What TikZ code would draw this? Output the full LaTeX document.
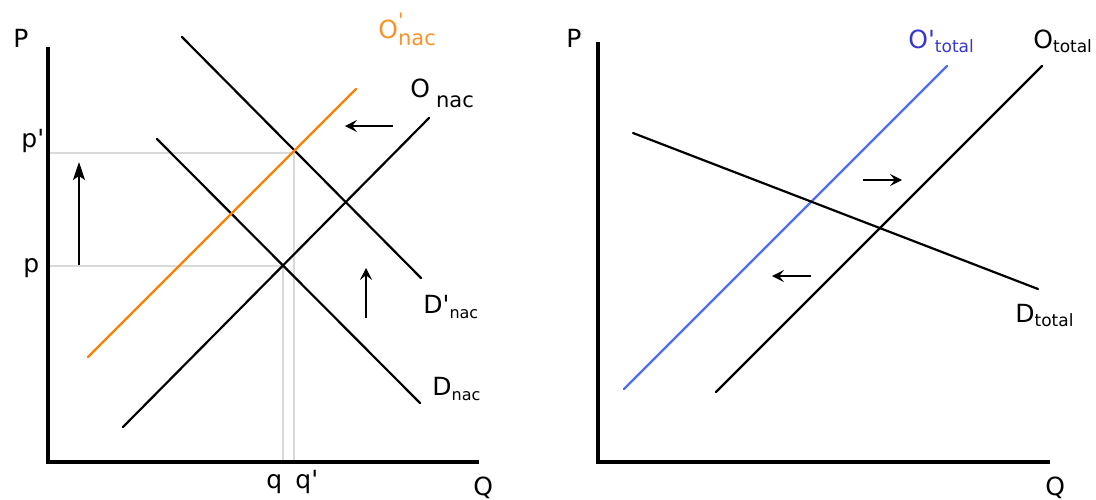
\documentclass[tikz,border=0pt]{standalone}
\usepackage{fontspec}
\setmainfont{DejaVu Sans}
\usetikzlibrary{arrows.meta}
\definecolor{supplyorange}{RGB}{255,128,0}
\definecolor{labelorange}{RGB}{247,148,40}
\definecolor{supplyblue}{RGB}{80,110,240}
\definecolor{labelblue}{RGB}{55,55,205}
% lowered subscript: #1 drop, #2 size, #3 text
\newcommand{\lowtxt}[3]{\raisebox{-#1}{\fontsize{#2}{#2}\selectfont #3}}
\newcommand{\prm}{\textquotesingle}

\begin{document}
\begin{tikzpicture}[x=0.5pt, y=-0.5pt,
    axis/.style={line width=1.6pt},
    curve/.style={line width=1.1pt, line cap=round},
    guide/.style={black!15, line width=0.6pt},
    shiftarr/.style={-{Stealth[length=6pt,width=6pt,inset=2.4pt]}, line width=0.6pt},
    lbl/.style={inner sep=0pt, anchor=base west, font=\fontsize{12.5}{12.5}\selectfont}
]
\useasboundingbox (0,0) rectangle (1096,499);

% national market
\coordinate (eq) at (283,266);
\coordinate (eqn) at (294,153);
\draw[guide] (50,153) -- (eqn) -- (294,462);
\draw[guide] (50,266) -- (eq) -- (283,462);
\draw[axis] (48,47) -- (48,462) -- (479,462);

\coordinate (dn1) at (182,37);   \coordinate (dn2) at (421,278);
\coordinate (d1) at (157,139);   \coordinate (d2) at (420,403);
\coordinate (o1) at (123,427);   \coordinate (o2) at (429,118);
\coordinate (on1) at (88,357);   \coordinate (on2) at (356,89);
\draw[curve] (dn1) -- (dn2);
\draw[curve] (d1) -- (d2);
\draw[curve] (o1) -- (o2);
\draw[curve, supplyorange] (on1) -- (on2);

\draw[-{Stealth[length=9pt,width=6pt,inset=2pt]}, line width=0.6pt] (79,265) -- (79,162);
\draw[shiftarr] (393,126) -- (345,126);
\draw[shiftarr] (366,318) -- (366,268);

\node[lbl] (pl) at (13,47) {P};
\node[lbl] (ql) at (473,495) {Q};
\node[lbl] (pp) at (21,147) {p\prm};
\node[lbl] (p) at (23,272) {p};
\node[lbl] (q) at (266,488) {q};
\node[lbl] (qp) at (295,488) {q\prm};
\node[lbl, labelorange] (onl) at (378,38) {O\rlap{\raisebox{0.8ex}{\fontsize{10}{10}\selectfont\prm}}\lowtxt{3.5pt}{10.5}{nac}};
\node[lbl] (ol) at (410,97) {O\hspace{3pt}\lowtxt{5pt}{10.5}{nac}};
\node[lbl] (dnl) at (423,313) {D\prm\lowtxt{2.5pt}{8}{nac}};
\node[lbl] (dl) at (432,395) {D\lowtxt{2.5pt}{8}{nac}};

% total market
\draw[axis] (598,42) -- (598,462) -- (1050,462);
\coordinate (ot1) at (716,392);  \coordinate (ot2) at (1042,66);
\coordinate (otn1) at (624,389); \coordinate (otn2) at (947,66);
\coordinate (dt1) at (633,133);  \coordinate (dt2) at (1038,289);
\draw[curve] (ot1) -- (ot2);
\draw[curve, supplyblue] (otn1) -- (otn2);
\draw[curve] (dt1) -- (dt2);

\draw[shiftarr] (863,180) -- (902,180);
\draw[shiftarr] (811,276) -- (772,276);

\node[lbl] (ptl) at (566,47) {P};
\node[lbl] (qtl) at (1045,495) {Q};
\node[lbl, labelblue] (otnl) at (908,48) {O\prm\lowtxt{2pt}{8.5}{total}};
\node[lbl] (otl) at (1033,48) {O\lowtxt{2pt}{8.5}{total}};
\node[lbl] (dtl) at (1015,322) {D\lowtxt{2pt}{8.5}{total}};
\end{tikzpicture}
\end{document}
